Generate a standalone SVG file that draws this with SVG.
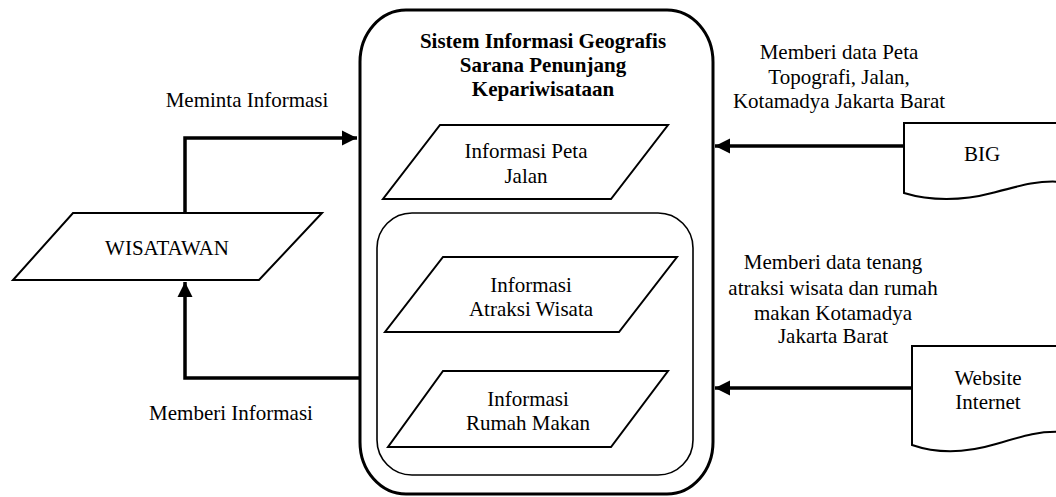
<svg xmlns="http://www.w3.org/2000/svg" width="1056" height="497" viewBox="0 0 1056 497">
  <style>
    text { font-family: "Liberation Serif", "Times New Roman", serif; font-size: 21px; fill: #000; text-anchor: middle; }
    .title { font-weight: bold; }
    .shape { fill: #fff; stroke: #000; stroke-width: 2; stroke-linejoin: miter; }
    .flow { fill: none; stroke: #000; stroke-width: 3.5; }
  </style>
  <defs>
    <marker id="arrow" viewBox="0 0 10 10" refX="10" refY="5" markerWidth="4.3" markerHeight="4.3" orient="auto" markerUnits="strokeWidth">
      <path d="M0,0 L10,5 L0,10 Z" fill="#000"/>
    </marker>
  </defs>

  <rect width="1056" height="497" fill="#fff"/>

  <!-- Central system boundary -->
  <g id="system">
    <rect x="360" y="10" width="353" height="484" rx="46" ry="52" fill="#fff" stroke="#000" stroke-width="3"/>
    <text class="title" x="543" y="48">Sistem Informasi Geografis</text>
    <text class="title" x="543" y="72">Sarana Penunjang</text>
    <text class="title" x="543" y="96">Kepariwisataan</text>
  </g>

  <g id="peta-jalan">
    <polygon class="shape" points="440,125 668,125 611,199 383,199"/>
    <text x="526" y="158">Informasi Peta</text>
    <text x="526" y="183">Jalan</text>
  </g>

  <g id="data-group">
    <rect x="377" y="213" width="316" height="262" rx="35" ry="35" fill="none" stroke="#000" stroke-width="1.6"/>
  </g>

  <g id="atraksi-wisata">
    <polygon class="shape" points="443,257 677,257 619,332 385,332"/>
    <text x="531" y="292">Informasi</text>
    <text x="531" y="316">Atraksi Wisata</text>
  </g>

  <g id="rumah-makan">
    <polygon class="shape" points="443,371 668,371 611,447 388,447"/>
    <text x="528" y="406">Informasi</text>
    <text x="528" y="430">Rumah Makan</text>
  </g>

  <g id="wisatawan">
    <polygon class="shape" points="73,213 322,213 259,280 13,280" stroke-width="2.4"/>
    <text x="167" y="255">WISATAWAN</text>
  </g>

  <g id="big">
    <path class="shape" d="M1062,123 H904 V193 C930,201 962,201 992,193 S1040,180 1062,182"/>
    <text x="982" y="161">BIG</text>
  </g>

  <g id="website">
    <path class="shape" d="M1062,346 H912 V445 C938,454 966,453 996,444 S1040,431 1062,432"/>
    <text x="988" y="385">Website</text>
    <text x="988" y="409">Internet</text>
  </g>

  <!-- Data flows -->
  <g id="connectors">
    <polyline class="flow" points="185,213 185,138 357,138" marker-end="url(#arrow)"/>
    <polyline class="flow" points="360,378 185,378 185,282" marker-end="url(#arrow)"/>
    <line class="flow" x1="904" y1="146" x2="715" y2="146" marker-end="url(#arrow)"/>
    <line class="flow" x1="912" y1="388" x2="715" y2="388" marker-end="url(#arrow)"/>
  </g>

  <g id="flow-labels">
    <text x="247" y="107">Meminta Informasi</text>
    <text x="231" y="420">Memberi Informasi</text>
    <text x="839" y="59">Memberi data Peta</text>
    <text x="839" y="84">Topografi, Jalan,</text>
    <text x="839" y="108">Kotamadya Jakarta Barat</text>
    <text x="833" y="269">Memberi data tenang</text>
    <text x="833" y="295">atraksi wisata dan rumah</text>
    <text x="833" y="320">makan Kotamadya</text>
    <text x="833" y="343">Jakarta Barat</text>
  </g>
</svg>
